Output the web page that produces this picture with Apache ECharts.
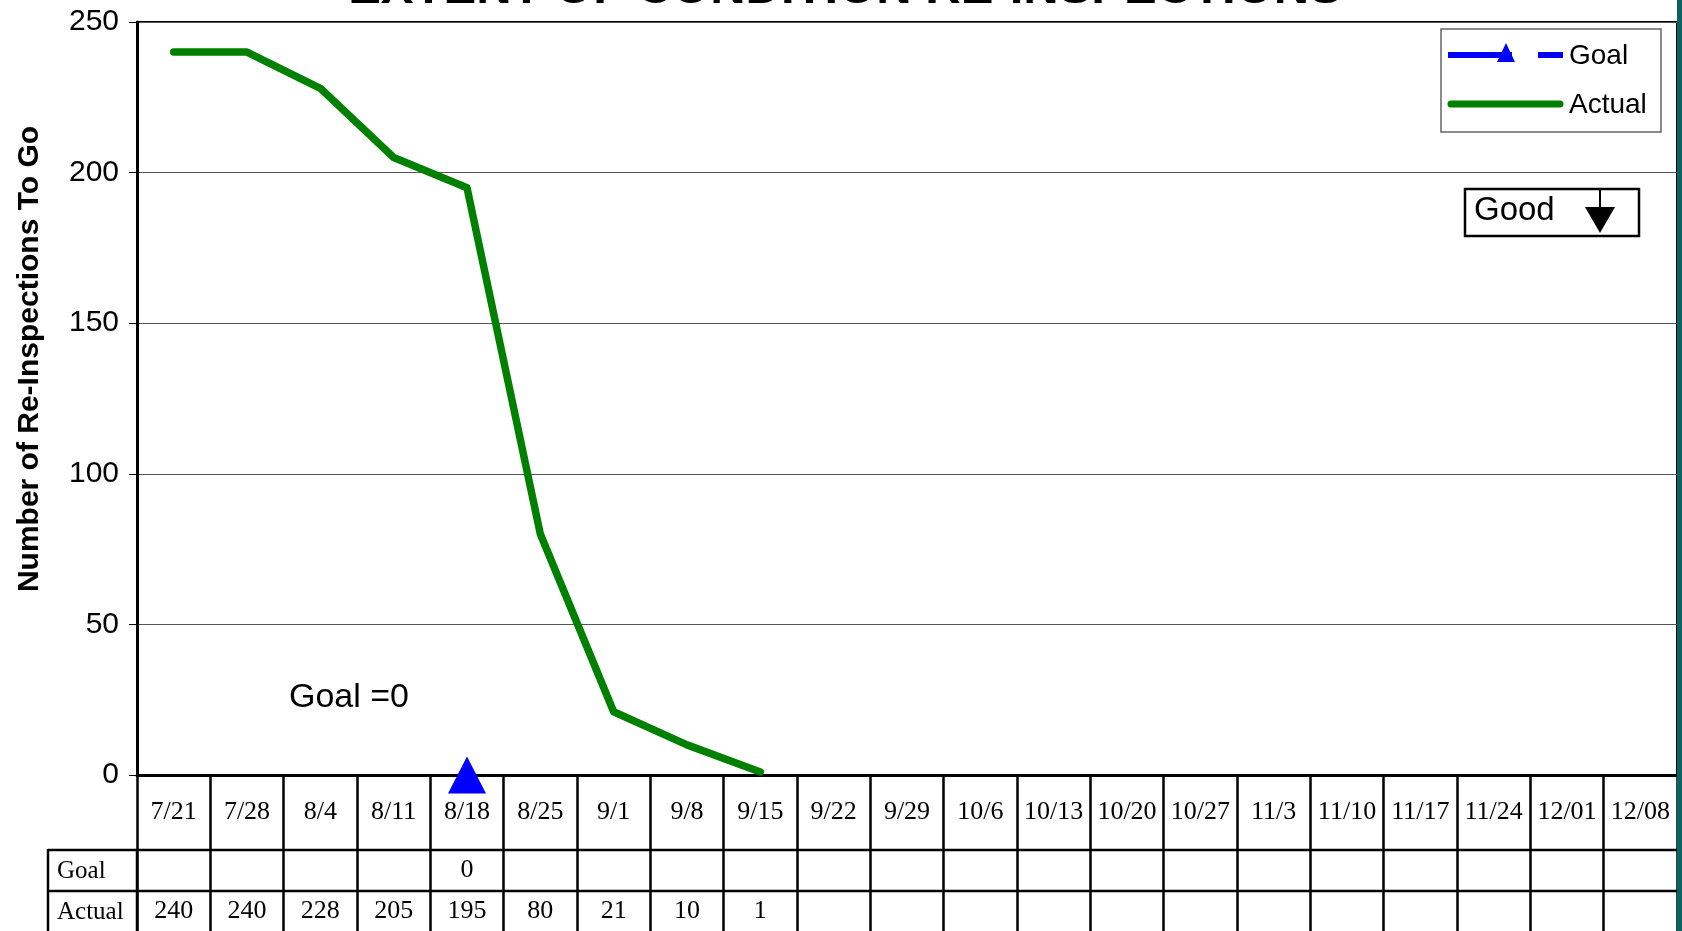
<!DOCTYPE html>
<html>
<head>
<meta charset="utf-8">
<title>Extent of Condition Re-Inspections</title>
<script src="https://cdn.jsdelivr.net/npm/echarts@6/dist/echarts.min.js"></script>
<style>
  html, body { margin: 0; padding: 0; background: #fff; }
  #chart { width: 1682px; height: 931px; }
</style>
</head>
<body>
<div id="chart"></div>
<script>
// Weekly checkpoints
const categories = ['7/21', '7/28', '8/4', '8/11', '8/18', '8/25', '9/1', '9/8', '9/15', '9/22',
  '9/29', '10/6', '10/13', '10/20', '10/27', '11/3', '11/10', '11/17', '11/24', '12/01', '12/08'];

// Re-inspections remaining
const goalValues = [null, null, null, null, 0, null, null, null, null, null,
  null, null, null, null, null, null, null, null, null, null, null];
const actualValues = [240, 240, 228, 205, 195, 80, 21, 10, 1, null,
  null, null, null, null, null, null, null, null, null, null, null];

// Value axis
const yMin = 0;
const yMax = 250;
const yStep = 50;

const SANS = '"Liberation Sans", Arial, sans-serif';
const SERIF = '"Liberation Serif", "Times New Roman", serif';
const asCell = v => (v === null || v === undefined) ? '' : String(v);

const chart = echarts.init(document.getElementById('chart'), null, { renderer: 'canvas' });

const tableRowAxis = (values, offset) => ({
  type: 'category',
  gridIndex: 0,
  position: 'bottom',
  offset: offset,
  data: values.map(asCell),
  boundaryGap: true,
  axisLine: { show: false },
  axisTick: { show: false },
  splitLine: { show: false },
  axisLabel: {
    interval: 0, margin: 20, verticalAlign: 'middle',
    color: '#000', fontFamily: SERIF, fontSize: 26
  }
});

const option = {
  backgroundColor: '#ffffff',
  animation: false,
  grid: {
    left: 137, right: 5, top: 22, bottom: 156,
    show: true, borderColor: '#000', borderWidth: 2, backgroundColor: 'transparent'
  },
  xAxis: [
    {
      type: 'category',
      data: categories,
      boundaryGap: true,
      axisLine: { show: true, lineStyle: { color: '#000', width: 3 } },
      axisTick: { show: true, interval: 0, length: 156, lineStyle: { color: '#000', width: 2.5 } },
      splitLine: { show: false },
      axisLabel: {
        interval: 0, margin: 37, verticalAlign: 'middle',
        color: '#000', fontFamily: SERIF, fontSize: 26
      }
    },
    tableRowAxis(goalValues, 75),
    tableRowAxis(actualValues, 116)
  ],
  yAxis: {
    type: 'value',
    min: yMin, max: yMax, interval: yStep,
    axisLine: { show: true, lineStyle: { color: '#000', width: 3 } },
    axisTick: { show: true, length: 8, lineStyle: { color: '#000', width: 1 } },
    splitLine: { show: true, lineStyle: { color: '#555', width: 1 } },
    axisLabel: { margin: 18, color: '#000', fontFamily: SANS, fontSize: 30 }
  },
  series: [
    {
      name: 'Actual',
      type: 'line',
      data: actualValues,
      showSymbol: false,
      symbol: 'none',
      connectNulls: false,
      lineStyle: { color: '#008000', width: 7.5, cap: 'round', join: 'round' },
      z: 3
    },
    {
      name: 'Goal',
      type: 'line',
      data: goalValues,
      symbol: 'triangle',
      symbolSize: [38, 37],
      showAllSymbol: true,
      lineStyle: { color: '#0000ff', width: 5 },
      itemStyle: { color: '#0000ff' },
      z: 4
    }
  ],
  graphic: [
    // frame accent on the right edge
    { type: 'rect', shape: { x: 1677, y: 0, width: 5, height: 931 }, style: { fill: '#0b6262' }, z: 10 },
    // title
    {
      type: 'text', x: 845, y: -11,
      style: {
        text: 'EXTENT OF CONDITION RE-INSPECTIONS', fill: '#000',
        font: 'bold 49px ' + SANS, align: 'center', verticalAlign: 'middle'
      }
    },
    // value axis title
    {
      type: 'text', x: 30, y: 359, rotation: Math.PI / 2,
      style: {
        text: 'Number of Re-Inspections To Go', fill: '#000',
        font: 'bold 30px ' + SANS, align: 'center', verticalAlign: 'middle'
      }
    },
    // goal note
    {
      type: 'text', x: 289, y: 698,
      style: { text: 'Goal =0', fill: '#000', font: '34px ' + SANS, align: 'left', verticalAlign: 'middle' }
    },
    // legend
    {
      type: 'rect', shape: { x: 1441, y: 29, width: 220, height: 103 },
      style: { fill: '#fff', stroke: '#666', lineWidth: 1.5 }, z: 5
    },
    { type: 'line', shape: { x1: 1448, y1: 55, x2: 1512, y2: 55 }, style: { stroke: '#0000ff', lineWidth: 6 }, z: 6 },
    { type: 'polygon', shape: { points: [[1506, 43], [1515, 62], [1497, 62]] }, style: { fill: '#0000ff' }, z: 6 },
    { type: 'line', shape: { x1: 1538, y1: 55, x2: 1563, y2: 55 }, style: { stroke: '#0000ff', lineWidth: 6 }, z: 6 },
    {
      type: 'text', x: 1569, y: 56,
      style: { text: 'Goal', fill: '#000', font: '28px ' + SANS, align: 'left', verticalAlign: 'middle' }, z: 6
    },
    {
      type: 'line', shape: { x1: 1451, y1: 104, x2: 1560, y2: 104 },
      style: { stroke: '#008000', lineWidth: 7, lineCap: 'round' }, z: 6
    },
    {
      type: 'text', x: 1569, y: 105,
      style: { text: 'Actual', fill: '#000', font: '28px ' + SANS, align: 'left', verticalAlign: 'middle' }, z: 6
    },
    // direction marker
    {
      type: 'rect', shape: { x: 1465, y: 189, width: 174, height: 47 },
      style: { fill: '#fff', stroke: '#000', lineWidth: 2.5 }, z: 5
    },
    {
      type: 'text', x: 1474, y: 211,
      style: { text: 'Good', fill: '#000', font: '33px ' + SANS, align: 'left', verticalAlign: 'middle' }, z: 6
    },
    { type: 'line', shape: { x1: 1600, y1: 190, x2: 1600, y2: 210 }, style: { stroke: '#000', lineWidth: 2 }, z: 6 },
    { type: 'polygon', shape: { points: [[1585, 207], [1615, 207], [1600, 233]] }, style: { fill: '#000' }, z: 6 },
    // data table rules
    { type: 'line', shape: { x1: 48, y1: 850, x2: 1677, y2: 850 }, style: { stroke: '#000', lineWidth: 2.5 }, z: 6 },
    { type: 'line', shape: { x1: 48, y1: 891, x2: 1677, y2: 891 }, style: { stroke: '#000', lineWidth: 2.5 }, z: 6 },
    { type: 'line', shape: { x1: 48, y1: 849, x2: 48, y2: 931 }, style: { stroke: '#000', lineWidth: 2.5 }, z: 6 },
    { type: 'line', shape: { x1: 137, y1: 849, x2: 137, y2: 931 }, style: { stroke: '#000', lineWidth: 2.5 }, z: 6 },
    {
      type: 'text', x: 57, y: 871,
      style: { text: 'Goal', fill: '#000', font: '25px ' + SERIF, align: 'left', verticalAlign: 'middle' }, z: 6
    },
    {
      type: 'text', x: 57, y: 912,
      style: { text: 'Actual', fill: '#000', font: '25px ' + SERIF, align: 'left', verticalAlign: 'middle' }, z: 6
    }
  ]
};

chart.setOption(option);
</script>
</body>
</html>
